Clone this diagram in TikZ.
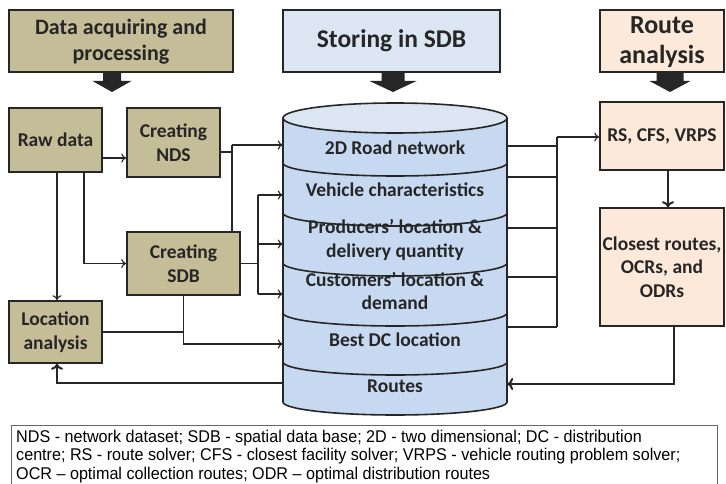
\documentclass[tikz,border=0pt]{standalone}
\usepackage{fontspec}
\setmainfont{Carlito}
\newfontfamily\legendfont[FakeStretch=0.95]{Liberation Sans}
\usetikzlibrary{arrows.meta,calc}
\definecolor{olive}{HTML}{C4BD97}
\definecolor{titleblue}{HTML}{DCE6F2}
\definecolor{cylblue}{HTML}{C6D9F1}
\definecolor{peach}{HTML}{FDE9D9}
\definecolor{ink}{HTML}{262626}
\tikzset{
  box/.style={draw=ink, line width=1.6pt, inner sep=1pt, align=center, font=\bfseries\fontsize{19.5}{23.5}\selectfont, text=ink},
  title/.style={box, font=\bfseries\fontsize{22}{26}\selectfont},
  bigtitle/.style={box, font=\bfseries\fontsize{26}{30}\selectfont},
  layer/.style={inner sep=0pt, minimum width=224pt, align=center, font=\bfseries\fontsize{19.5}{23.5}\selectfont, text=ink},
  conn/.style={draw=ink, line width=1.1pt},
  arr/.style={conn, -{To[length=5pt,width=9pt]}},
  thick conn/.style={draw=ink, line width=2.6pt},
  thick arr/.style={thick conn, -{To[length=6pt,width=12pt,line width=2pt]}},
  blockarrow/.style={fill=ink, draw=none}
}
\begin{document}
\begin{tikzpicture}[x=1pt,y=1pt]
\useasboundingbox (0,0) rectangle (726,-484);

% title boxes
\node[title, fill=olive, minimum width=224pt, minimum height=62pt, text depth=2pt] (acq) at (121,-41) {Data acquiring and\\processing};
\node[bigtitle, font=\bfseries\fontsize{25.5}{30}\selectfont, fill=titleblue, minimum width=217pt, minimum height=62pt] (sto) at (391.5,-41) {Storing in SDB};
\node[bigtitle, fill=peach, minimum width=124pt, minimum height=62pt, text depth=2pt] (rte) at (662,-41) {Route\\analysis};

% block arrows
\foreach \cx/\hw/\sw in {112/19.5/9, 393/23.5/11.5, 670/20.5/13.5}{
  \fill[blockarrow] (\cx-\sw,-73) -- (\cx+\sw,-73) -- (\cx+\sw,-81) -- (\cx+\hw,-81) -- (\cx,-92) -- (\cx-\hw,-81) -- (\cx-\sw,-81) -- cycle;
}

% left boxes
\node[box, fill=olive, minimum width=93pt, minimum height=64pt] (raw) at (55.5,-140) {Raw data};
\node[box, fill=olive, minimum width=93pt, minimum height=69pt] (nds) at (173.5,-142.5) {Creating\\NDS};
\node[box, fill=olive, minimum width=113pt, minimum height=63pt] (sdb) at (183.5,-263.5) {Creating\\SDB};
\node[box, fill=olive, minimum width=93pt, minimum height=62pt] (loc) at (55.5,-332) {Location\\analysis};

% right boxes
\node[box, fill=peach, minimum width=124pt, minimum height=68pt] (rs) at (662,-136) {RS, CFS, VRPS};
\node[box, fill=peach, minimum width=124pt, minimum height=118pt] (clo) at (662,-267) {Closest routes,\\OCRs, and\\ODRs};

% cylinder
\fill[cylblue] (283,-118) -- (283,-402) arc[start angle=180, end angle=360, x radius=112, y radius=13] -- (507,-118) -- cycle;
\fill[titleblue, draw=ink, line width=1.6pt] (395,-118) ellipse[x radius=112, y radius=15];
\foreach \yy in {163,213,263,313,362}{
  \draw[ink, line width=1.6pt] (283,-\yy) arc[start angle=180, end angle=360, x radius=112, y radius=13];
}
\draw[ink, line width=1.6pt] (283,-118) -- (283,-402) arc[start angle=180, end angle=360, x radius=112, y radius=13] -- (507,-118);

\node[layer] (l1) at (395,-148) {2D Road network};
\node[layer] (l2) at (395,-190) {Vehicle characteristics};
\node[layer] (l3) at (395,-240) {Producers’ location \&\\delivery quantity};
\node[layer] (l4) at (395,-291) {Customers’ location \&\\demand};
\node[layer] (l5) at (395,-340) {Best DC location};
\node[layer] (l6) at (395,-386) {Routes};

% left connectors
\draw[arr] (raw.east |- 0,-158) -- (nds.west |- 0,-158);
\draw[conn] (nds.east |- 0,-152) -- (232,-152);
\draw[conn] (232,-145) -- (sdb.north -| 232,0);
\draw[arr] (232,-145) -- (l1.west |- 0,-145);
\draw[arr] (raw.south -| 57,0) -- (loc.north -| 57,0);
\draw[arr] (raw.south -| 84,0) |- (sdb.west);
\draw[conn] (sdb.east) -- (258,-263.5);
\draw[conn] (258,-195) -- (258,-294);
\draw[arr] (258,-195) -- (l2.west |- 0,-195);
\draw[arr] (258,-244) -- (l3.west |- 0,-244);
\draw[arr] (258,-294) -- (l4.west |- 0,-294);
\draw[arr] (sdb.south) |- (l5.west |- 0,-344);
\draw[conn] (loc.east |- 0,-332) -- (183.5,-332);
\draw[thick arr] (l6.west |- 0,-383) -| (loc.south -| 57,0);

% right connectors
\foreach \yy/\ll in {146/l1,177/l2,228/l3,277/l4,327/l5}{
  \draw[conn] (\ll.east |- 0,-\yy) -- (557,-\yy);
}
\draw[conn] (557,-137) -- (557,-327);
\draw[arr] (557,-137) -- (rs.west |- 0,-137);
\draw[thick arr] (rs.south -| 668,0) -- (clo.north -| 668,0);
\draw[thick arr] (clo.south -| 674,0) |- (l6.east |- 0,-384);

% legend
\draw[ink!70, line width=0.8pt, fill=white] (11,-425) rectangle (717,-485);
\node[anchor=north west, inner sep=0pt, align=left, text=black, font=\legendfont\fontsize{17}{18.3}\selectfont] (leg) at (16,-430) {NDS - network dataset; SDB - spatial data base; 2D - two dimensional; DC - distribution\\centre; RS - route solver; CFS - closest facility solver; VRPS - vehicle routing problem solver;\\OCR – optimal collection routes; ODR – optimal distribution routes};
\end{tikzpicture}
\end{document}
